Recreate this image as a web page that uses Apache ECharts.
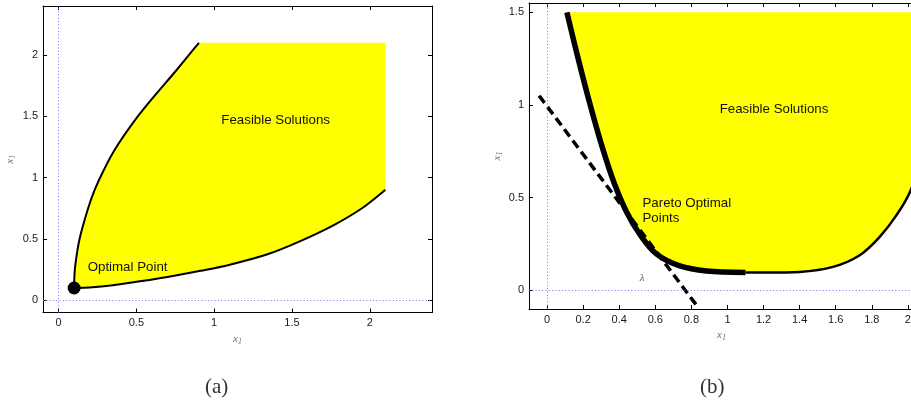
<!DOCTYPE html>
<html>
<head>
<meta charset="utf-8">
<script src="https://cdn.jsdelivr.net/npm/echarts@6/dist/echarts.min.js"></script>
<style>
  html, body { margin: 0; padding: 0; background: #fff; }
  #chart { width: 911px; height: 400px; }
</style>
</head>
<body>
<div id="chart"></div>
<script>
// ---- Panel (a): feasible set with a single optimal point ----
const upperA = [[0.1, 0.1], [0.102, 0.2], [0.109, 0.3], [0.135, 0.5], [0.19, 0.75], [0.232, 0.9],
                [0.29, 1.06], [0.365, 1.236], [0.49, 1.467], [0.61, 1.657], [0.76, 1.88], [0.902, 2.1]];
const lowerA = [[0.1, 0.1], [0.2, 0.104], [0.35, 0.122], [0.5, 0.15], [0.7, 0.19], [0.913, 0.24],
                [1.1, 0.29], [1.343, 0.375], [1.55, 0.48], [1.772, 0.615], [1.95, 0.75], [2.1, 0.9]];
const cornerA = [[2.1, 2.1]];
const optimalA = [[0.1, 0.1]];
const ticksA = [0, 0.5, 1, 1.5, 2];
const notesA = ['Feasible Solutions', 'Optimal Point'];
const notesAtA = [[1.046, 1.467], [0.187, 0.271]];

// ---- Panel (b): Pareto front and a supporting line ----
const paretoB = [[0.11, 1.5], [0.172, 1.252], [0.233, 1.023], [0.3, 0.792], [0.375, 0.571], [0.44, 0.425],
                 [0.514, 0.303], [0.606, 0.197], [0.736, 0.132], [0.884, 0.105], [1.1, 0.097]];
const frontierB = [[1.1, 0.097], [1.4, 0.1], [1.585, 0.127], [1.733, 0.19], [1.844, 0.289], [1.937, 0.406],
                   [2.016, 0.541], [2.1, 0.775], [2.167, 1.02], [2.228, 1.25], [2.29, 1.5]];
const supportB = [[-0.044, 1.05], [0.828, -0.079]];
const ticksBx = [0, 0.2, 0.4, 0.6, 0.8, 1, 1.2, 1.4, 1.6, 1.8, 2];
const ticksBy = [0, 0.5, 1, 1.5];
const notesB = ['Feasible Solutions', 'Pareto Optimal\nPoints'];
const notesAtB = [[0.957, 0.978], [0.529, 0.43]];
const lambdaAtB = [[0.514, 0.065]];

const tickText = { fontFamily: 'Liberation Sans', fontSize: 11, color: '#1a1a1a' };
function nameStyle(padding) {
  return {
    fontFamily: 'Liberation Serif', fontStyle: 'italic', fontSize: 11, color: '#707070',
    padding: padding || 0,
    rich: { s: { fontFamily: 'Liberation Serif', fontSize: 8, color: '#707070', padding: [5, 0, 0, 0] } }
  };
}

function makeAxis(gridIndex, position, min, max, ticks, withLabels, name, nameGap, namePad) {
  return {
    type: 'value', gridIndex: gridIndex, position: position, min: min, max: max,
    name: name || '', nameLocation: 'middle', nameGap: nameGap || 0, nameTextStyle: nameStyle(namePad),
    splitLine: { show: false },
    axisLine: { show: true, onZero: false, lineStyle: { color: '#000', width: 1 } },
    axisTick: { show: true, inside: true, length: 4, customValues: ticks, lineStyle: { color: '#000', width: 1 } },
    axisLabel: Object.assign({ show: withLabels, customValues: ticks, margin: 5 }, tickText),
    minorTick: { show: false }
  };
}

// Catmull-Rom spline through pixel points, as cubic Bezier segments
function splineSegments(px) {
  const segs = [];
  for (let i = 0; i < px.length - 1; i++) {
    const p0 = px[i - 1] || px[i], p1 = px[i], p2 = px[i + 1], p3 = px[i + 2] || px[i + 1];
    const c1 = [p1[0] + (p2[0] - p0[0]) / 6, p1[1] + (p2[1] - p0[1]) / 6];
    const c2 = [p2[0] - (p3[0] - p1[0]) / 6, p2[1] - (p3[1] - p1[1]) / 6];
    segs.push([p1, c1, c2, p2]);
  }
  return segs;
}
function segPath(segs, move) {
  let d = move ? 'M' + segs[0][0][0] + ' ' + segs[0][0][1] : '';
  segs.forEach(function (s) {
    d += ' C' + s[1][0] + ' ' + s[1][1] + ' ' + s[2][0] + ' ' + s[2][1] + ' ' + s[3][0] + ' ' + s[3][1];
  });
  return d;
}
function toPx(api, pts) { return pts.map(function (p) { return api.coord(p); }); }

function renderRegionA(params, api) {
  const up = splineSegments(toPx(api, upperA));
  const lowRev = splineSegments(toPx(api, lowerA.slice().reverse()));
  const corner = api.coord(cornerA[0]);
  const fillD = segPath(up, true) + ' L' + corner[0] + ' ' + corner[1] +
    ' L' + lowRev[0][0][0] + ' ' + lowRev[0][0][1] + segPath(lowRev, false) + ' Z';
  return {
    type: 'group',
    children: [
      { type: 'path', shape: { pathData: fillD }, style: { fill: '#ffff00', stroke: null } },
      { type: 'path', shape: { pathData: segPath(up, true) }, style: { fill: null, stroke: '#000', lineWidth: 2 } },
      { type: 'path', shape: { pathData: segPath(lowRev, true) }, style: { fill: null, stroke: '#000', lineWidth: 2 } }
    ]
  };
}

function renderRegionB(params, api) {
  const all = splineSegments(toPx(api, paretoB.concat(frontierB.slice(1))));
  const front = all.slice(0, paretoB.length - 1);
  const rest = all.slice(paretoB.length - 1);
  return {
    type: 'group',
    children: [
      { type: 'path', shape: { pathData: segPath(all, true) + ' Z' }, style: { fill: '#ffff00', stroke: null } },
      { type: 'path', shape: { pathData: segPath(rest, true) }, style: { fill: null, stroke: '#000', lineWidth: 2.5 } },
      { type: 'path', shape: { pathData: segPath(front, true) },
        style: { fill: null, stroke: '#000', lineWidth: 5.5, lineCap: 'butt' } }
    ]
  };
}

function notesRenderer(texts, style) {
  return function (params, api) {
    const p = api.coord([api.value(0), api.value(1)]);
    return {
      type: 'text', x: p[0], y: p[1],
      style: Object.assign({ text: texts[params.dataIndex], align: 'left', verticalAlign: 'middle',
                             textAlign: 'left', textVerticalAlign: 'middle' }, style)
    };
  };
}

const zeroLines = {
  silent: true, symbol: 'none', label: { show: false }, animation: false,
  lineStyle: { type: [1, 2.3], color: '#7070ff', width: 1 },
  data: [{ xAxis: 0 }, { yAxis: 0 }]
};

const noteStyle = { fill: '#111', font: '13.3px "Liberation Sans"', lineHeight: 15 };
const captionFont = '21px "Liberation Serif"';

const chart = echarts.init(document.getElementById('chart'), null, { renderer: 'canvas' });
chart.setOption({
  animation: false,
  backgroundColor: '#fff',
  grid: [
    { left: 43, top: 6, width: 389, height: 306.5, containLabel: false, outerBoundsMode: 'none' },
    { left: 529, top: 3, width: 396.9, height: 306, containLabel: false, outerBoundsMode: 'none' }
  ],
  xAxis: [
    makeAxis(0, 'bottom', -0.1, 2.4, ticksA, true, 'x{s|1}', 12),
    makeAxis(0, 'top', -0.1, 2.4, ticksA, false),
    makeAxis(1, 'bottom', -0.1, 2.1, ticksBx, true, 'x{s|1}', 15, [0, 12, 0, 0]),
    makeAxis(1, 'top', -0.1, 2.1, ticksBx, false)
  ],
  yAxis: [
    makeAxis(0, 'left', -0.1, 2.4, ticksA, true, 'x{s|1}', 26),
    makeAxis(0, 'right', -0.1, 2.4, ticksA, false),
    makeAxis(1, 'left', -0.1, 1.55, ticksBy, true, 'x{s|1}', 25),
    makeAxis(1, 'right', -0.1, 1.55, ticksBy, false)
  ],
  graphic: [
    { type: 'text', x: 216.7, y: 387, style: { text: '(a)', font: captionFont, fill: '#333',
      align: 'center', verticalAlign: 'middle', textAlign: 'center', textVerticalAlign: 'middle' } },
    { type: 'text', x: 712.3, y: 387, style: { text: '(b)', font: captionFont, fill: '#333',
      align: 'center', verticalAlign: 'middle', textAlign: 'center', textVerticalAlign: 'middle' } }
  ],
  series: [
    // panel (a)
    { type: 'custom', xAxisIndex: 0, yAxisIndex: 0, data: [[0.1, 0.1]], silent: true, z: 2,
      renderItem: renderRegionA },
    { type: 'scatter', xAxisIndex: 0, yAxisIndex: 0, data: optimalA, symbolSize: 13, z: 4, silent: true,
      itemStyle: { color: '#000', opacity: 1 }, markLine: zeroLines },
    { type: 'custom', xAxisIndex: 0, yAxisIndex: 0, data: notesAtA, silent: true, z: 5,
      renderItem: notesRenderer(notesA, noteStyle) },
    // panel (b)
    { type: 'custom', xAxisIndex: 2, yAxisIndex: 2, data: [[0.11, 1.5]], silent: true, z: 2, clip: true,
      renderItem: renderRegionB },
    { type: 'line', xAxisIndex: 2, yAxisIndex: 2, data: supportB, symbol: 'none', z: 4, silent: true,
      lineStyle: { color: '#000', width: 3.5, type: [9, 5], cap: 'butt' }, markLine: zeroLines },
    { type: 'custom', xAxisIndex: 2, yAxisIndex: 2, data: notesAtB, silent: true, z: 5,
      renderItem: notesRenderer(notesB, noteStyle) },
    { type: 'custom', xAxisIndex: 2, yAxisIndex: 2, data: lambdaAtB, silent: true, z: 5,
      renderItem: notesRenderer(['λ'], { fill: '#555', font: 'italic 11px "Liberation Serif"' }) }
  ]
});
</script>
</body>
</html>
